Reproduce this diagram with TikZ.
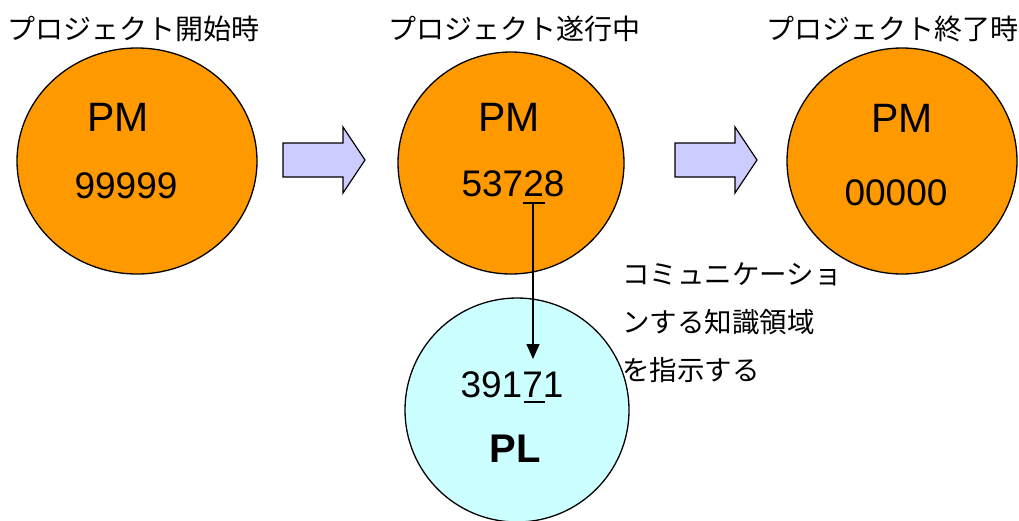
\documentclass[tikz,border=0pt]{standalone}
\usepackage{fontspec}
\setmainfont{Liberation Sans}
\newfontfamily\jp{Noto Sans CJK JP}
\usetikzlibrary{arrows.meta}
\definecolor{pmorange}{HTML}{FF9900}
\definecolor{plcyan}{HTML}{CCFFFF}
\definecolor{arrowblue}{HTML}{CCCCFF}
\begin{document}
\begin{tikzpicture}[x=1pt,y=-1pt,
  pmcircle/.style={draw=black,line width=1.3pt,fill=pmorange},
  plcircle/.style={draw=black,line width=1.3pt,fill=plcyan},
  blockarrow/.style={draw=black,line width=1.2pt,fill=arrowblue,line join=miter},
  titletext/.style={font=\jp\fontsize{28}{32}\selectfont,inner sep=0pt,anchor=center},
  pmtext/.style={font=\fontsize{41}{45}\selectfont,inner sep=0pt,anchor=center},
  numtext/.style={font=\fontsize{37}{40}\selectfont,inner sep=0pt,anchor=center},
  notetext/.style={font=\jp\fontsize{27.5}{48}\selectfont,inner sep=0pt,align=left,anchor=west},
  uline/.style={line width=1.8pt},
  link/.style={line width=1.5pt,-{Triangle[width=13pt,length=15pt]}}
]
\useasboundingbox (0,0) rectangle (1019,520);
% circles
\draw[pmcircle] (137,161) ellipse [x radius=120,y radius=113];
\draw[pmcircle] (511,163) ellipse [x radius=113,y radius=111];
\draw[pmcircle] (902,161) ellipse [x radius=115,y radius=113];
\draw[plcircle] (517,410) ellipse [x radius=112,y radius=112];
% block arrows
\draw[blockarrow] (283,143) -- (343,143) -- (343,127) -- (365,160) -- (343,193) -- (343,177) -- (283,177) -- cycle;
\draw[blockarrow] (675,143) -- (735,143) -- (735,127) -- (757,160) -- (735,193) -- (735,177) -- (675,177) -- cycle;
% titles
\node[titletext] (t1) at (133,29) {プロジェクト開始時};
\node[titletext] (t2) at (514,29) {プロジェクト遂行中};
\node[titletext] (t3) at (892,29) {プロジェクト終了時};
% circle texts
\node[pmtext] (pm1) at (118,117) {PM};
\node[numtext] (n1) at (126,186) {99999};
\node[pmtext] (pm2) at (509,117) {PM};
\node[numtext] (n2) at (513,184) {53728};
\node[pmtext] (pm3) at (902,118) {PM};
\node[numtext] (n3) at (896,193) {00000};
\node[numtext] (n4) at (512,385) {39171};
\node[font=\bfseries\fontsize{40}{42}\selectfont,inner sep=0pt] (pl) at (515,449) {PL};
% underlines
\coordinate (u2) at (533,203);
\coordinate (u7) at (534,402);
\draw[uline] (523,203) -- (545,203);
\draw[uline] (524,402) -- (545,402);
% connector
\coordinate (tip) at (533,359);
\draw[link] (u2) -- (tip);
% note
\node[notetext] (note) at (622,323) {コミュニケーショ\\ンする知識領域\\を指示する};
\end{tikzpicture}
\end{document}
